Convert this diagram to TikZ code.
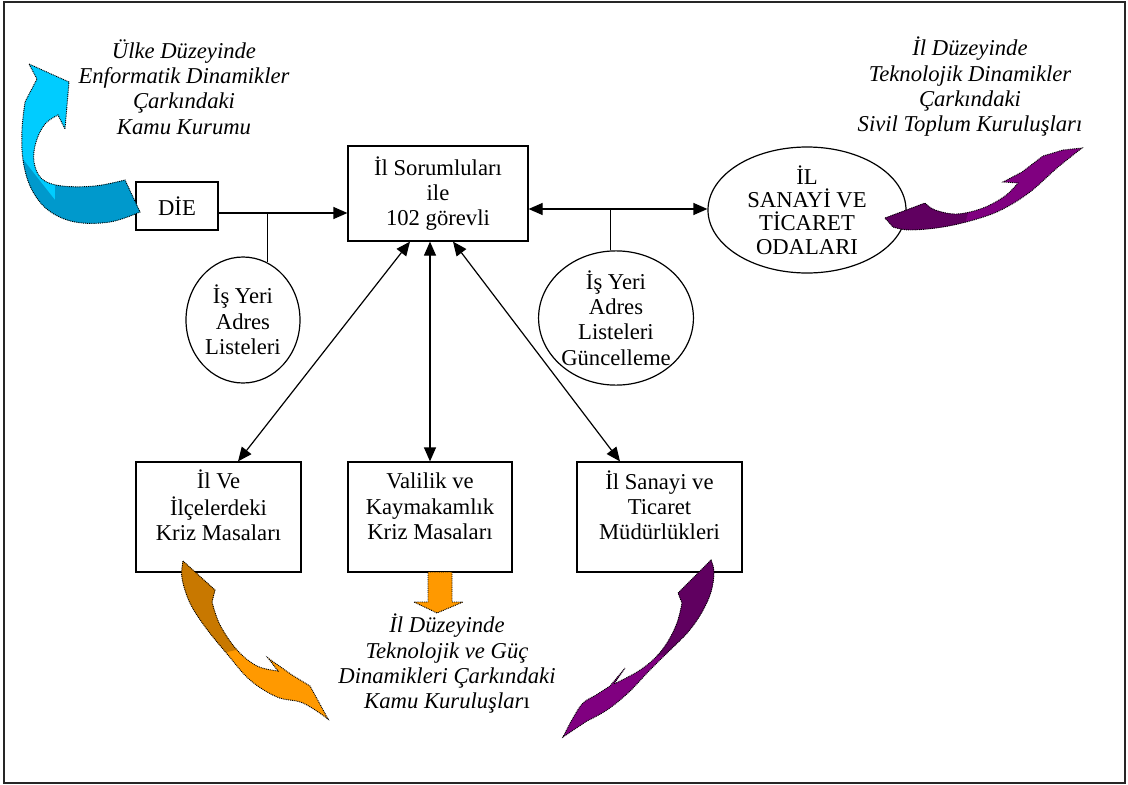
\documentclass[tikz,border=0pt]{standalone}
\usepackage{fontspec}
\setmainfont{Liberation Serif}
\usetikzlibrary{arrows.meta,shapes.geometric}
\newcommand{\liftup}[2]{\raisebox{#1}[\height][\depth]{\begin{tabular}{@{}c@{}}#2\end{tabular}}}
\definecolor{cyanL}{HTML}{00CCFF}
\definecolor{cyanD}{HTML}{0099CC}
\definecolor{orangeL}{HTML}{FF9900}
\definecolor{orangeD}{HTML}{C87800}
\definecolor{purpL}{HTML}{800080}
\definecolor{purpD}{HTML}{600060}
\begin{document}
\begin{tikzpicture}[x=0.75pt,y=-0.75pt,
  >={Triangle[length=10.5pt,width=9pt]},
  txt/.style={font=\fontsize{17}{19}\selectfont, align=center},
  itxt/.style={font=\fontsize{17}{19}\selectfont\itshape, align=center},
  boxnode/.style={draw, line width=0.9pt, txt, inner sep=0pt},
  ellnode/.style={draw, ellipse, line width=0.9pt, txt, inner sep=0pt},
  conn/.style={line width=0.9pt},
  deco/.style={draw=black, line width=0.7pt, dash pattern=on 0.7pt off 0.7pt},
]
\useasboundingbox (0,0) rectangle (1128,785);
\draw[line width=1.3pt, black!85] (4,2) rectangle (1125,783);

% nodes
\node[boxnode, minimum width=61.5pt, minimum height=36pt] (die) at (177,206) {DİE};
\node[boxnode, minimum width=135pt, minimum height=71.25pt] (main) at (438,193.5) {İl Sorumluları\\ile\\102 görevli};
\node[ellnode, minimum width=85.5pt, minimum height=94.5pt] (c1) at (243,320) {İş Yeri\\Adres\\Listeleri};
\node[ellnode, minimum width=97.5pt, minimum height=93pt] (c2) at (616,318) {İş Yeri\\Adres\\Listeleri\\Güncelleme};
\node[ellnode, minimum width=148.5pt, minimum height=94.5pt, font=\fontsize{17}{17.5}\selectfont] (oda) at (807,210) {İL\\SANAYİ VE\\TİCARET\\ODALARI};
\node[boxnode, minimum width=123.75pt, minimum height=82.5pt] (b1) at (218.5,517) {\liftup{6pt}{İl Ve\\İlçelerdeki\\Kriz Masaları}};
\node[boxnode, minimum width=123pt, minimum height=82.5pt] (b2) at (430,517) {\liftup{6pt}{Valilik ve\\Kaymakamlık\\Kriz Masaları}};
\node[boxnode, minimum width=123.75pt, minimum height=82.5pt] (b3) at (659.5,517) {\liftup{6pt}{İl Sanayi ve\\Ticaret\\Müdürlükleri}};

% italic labels
\node[itxt] (tl) at (184,87) {Ülke Düzeyinde\\Enformatik Dinamikler\\Çarkındaki\\Kamu Kurumu};
\node[itxt] (tr) at (970,87) {İl Düzeyinde\\Teknolojik Dinamikler\\Çarkındaki\\Sivil Toplum Kuruluşları};
\node[itxt] (bt) at (447,664) {İl Düzeyinde\\Teknolojik ve Güç\\Dinamikleri Çarkındaki\\Kamu Kuruluşlar{\upshape ı}};

% connectors
\draw[conn,->] (die.east |- 0,213) -- (main.west |- 0,213);
\coordinate (j1) at (c1.67 |- 0,213);
\draw[conn] (j1) -- (c1.67);
\draw[conn,<->] (main.east |- 0,209) -- (oda.west |- 0,209);
\coordinate (j2) at (c2.95 |- 0,209);
\draw[conn] (j2) -- (c2.95);
\draw[conn,<->] (main.south -| 410,0) -- (b1.north -| 238,0);
\draw[conn,<->] (main.south -| b2.north) -- (b2.north);
\draw[conn,<->] (main.south -| 453,0) -- (b3.north -| 620,0);

% cyan curved arrow
\path[save path=\cyanP] (29,64) -- (69,82) -- (65,129) -- (58,115)
  -- plot[smooth,tension=0.6] coordinates {(58,115) (45,124) (36,142) (34,162) (42,179) (62,186) (95,186) (125,180)}
  -- (140,212)
  -- plot[smooth,tension=0.6] coordinates {(140,212) (110,222) (75,222) (48,210) (31,188) (23,160) (22,130) (25,102)}
  -- (37,79) -- cycle;
\fill[cyanL, use path=\cyanP];
\begin{scope}
\clip (0,130) -- (55,200) -- (55,165) -- (200,165) -- (200,260) -- (0,260) -- cycle;
\fill[cyanD, use path=\cyanP];
\end{scope}
\draw[deco, use path=\cyanP];

% purple top-right arrow
\path[save path=\purA] (885,218) -- (925,203)
  -- plot[smooth,tension=0.6] coordinates {(925,203) (935,210) (957,214) (983,208) (1005,196) (1018,183)}
  -- (1003,182) -- (1022,172) -- (1043,156) -- (1063,150) -- (1082,148)
  -- plot[smooth,tension=0.6] coordinates {(1082,148) (1057,168) (1030,192) (1003,209) (977,219) (943,227) (910,230) (893,227)}
  -- cycle;
\fill[purpL, use path=\purA];
\begin{scope}
\clip (870,140) -- (990,140) -- (960,240) -- (870,240) -- cycle;
\fill[purpD, use path=\purA];
\end{scope}
\draw[deco, use path=\purA];

% orange bottom-left arrow
\path[save path=\orA] (183,561) -- (215,590) -- (212,602)
  -- plot[smooth,tension=0.6] coordinates {(212,602) (220,625) (237,650) (257,666) (278,671)}
  -- (268,658) -- (292,675) -- (310,686) -- (328,719)
  -- plot[smooth,tension=0.6] coordinates {(328,719) (303,703) (277,697) (250,680) (228,655) (206,628) (190,603) (182,578) (183,561)}
  -- cycle;
\fill[orangeL, use path=\orA];
\begin{scope}
\clip (150,540) -- (300,540) -- (300,635) -- (150,670) -- cycle;
\fill[orangeD, use path=\orA];
\end{scope}
\draw[deco, use path=\orA];

% purple bottom-right arrow
\path[save path=\purB] (678,593) -- (711,560)
  -- plot[smooth,tension=0.6] coordinates {(711,560) (714,572) (711,592) (702,612) (688,632) (667,653) (648,672) (628,693) (607,710) (587,721)}
  -- (563,737)
  -- plot[smooth,tension=0.6] coordinates {(563,737) (573,718) (583,703) (596,695) (610,686)}
  -- (625,668) -- (614,684)
  -- plot[smooth,tension=0.6] coordinates {(614,684) (637,672) (654,659) (667,643) (677,623) (682,603)}
  -- cycle;
\fill[purpL, use path=\purB];
\begin{scope}
\clip (550,540) -- (730,540) -- (730,640) -- (550,680) -- cycle;
\fill[purpD, use path=\purB];
\end{scope}
\draw[deco, use path=\purB];

% orange down arrow
\filldraw[deco, fill=orangeL] (428,572) -- (452,572) -- (452,602) -- (463,602) -- (437,613) -- (414,602) -- (428,602) -- cycle;
\end{tikzpicture}
\end{document}
